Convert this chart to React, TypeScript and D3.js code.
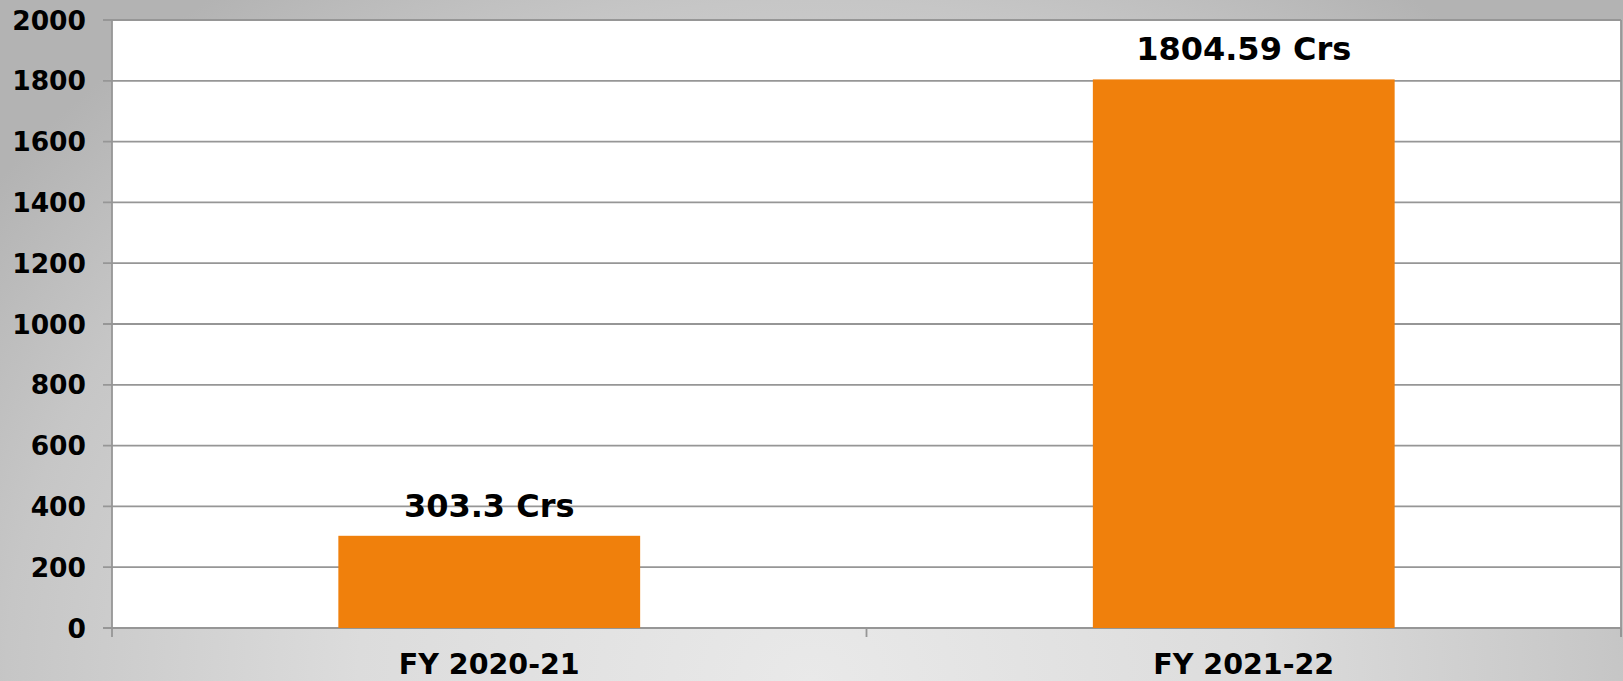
import React from "react";
import * as d3 from "d3";

const categories = ["FY 2020-21", "FY 2021-22"];
const values = [303.3, 1804.59];
const valueLabels = ["303.3 Crs", "1804.59 Crs"];
const yTicks = [0, 200, 400, 600, 800, 1000, 1200, 1400, 1600, 1800, 2000];

const W = 1623;
const H = 681;
const M = { left: 112, right: 2, top: 20, bottom: 53 };

export default function App() {
  const x = d3
    .scaleBand<string>()
    .domain(categories)
    .range([M.left, W - M.right])
    .paddingInner(0)
    .paddingOuter(0);
  const y = d3.scaleLinear().domain([0, 2000]).range([H - M.bottom, M.top]);
  const bw = x.bandwidth() * 0.4;
  const font = "'DejaVu Sans', Verdana, sans-serif";
  const axisColor = "#969696";
  const bottom = y(0);
  const boundaries = [...categories.map((c) => x(c)!), W - M.right];

  return (
    <svg
      width={W}
      height={H}
      style={{ position: "absolute", left: 0, top: 0, display: "block" }}
      fontFamily={font}
    >
      <defs>
        <radialGradient id="bg" cx="0.5" cy="1" r="1" gradientTransform="translate(0.5 1) scale(0.62 1.25) translate(-0.5 -1)">
          <stop offset="0" stopColor="#e9e9e9" />
          <stop offset="0.45" stopColor="#dcdcdc" />
          <stop offset="0.8" stopColor="#c6c6c6" />
          <stop offset="1" stopColor="#b3b3b3" />
        </radialGradient>
      </defs>
      <rect x={0} y={0} width={W} height={H} fill="url(#bg)" />
      <rect
        x={M.left}
        y={M.top}
        width={W - M.right - M.left}
        height={bottom - M.top}
        fill="#ffffff"
      />
      {yTicks.map((t) => (
        <g key={t}>
          <line
            x1={M.left - 9}
            x2={W - M.right}
            y1={y(t)}
            y2={y(t)}
            stroke={axisColor}
            strokeWidth={1.8}
          />
          <text
            x={86}
            y={y(t)}
            dy="0.36em"
            textAnchor="end"
            fontSize={26.5}
            fontWeight="bold"
            fill="#000"
          >
            {t}
          </text>
        </g>
      ))}
      {categories.map((c, i) => {
        const cx = x(c)! + x.bandwidth() / 2;
        return (
          <g key={c}>
            <rect
              x={cx - bw / 2}
              y={y(values[i])}
              width={bw}
              height={bottom - y(values[i])}
              fill="#f0800c"
            />
            <text
              x={cx}
              y={y(values[i]) - 19}
              textAnchor="middle"
              fontSize={32}
              fontWeight="bold"
              fill="#000"
            >
              {valueLabels[i]}
            </text>
            <text
              x={cx}
              y={674}
              textAnchor="middle"
              fontSize={28.5}
              fontWeight="bold"
              fill="#000"
            >
              {c}
            </text>
          </g>
        );
      })}
      <line x1={M.left} x2={M.left} y1={M.top} y2={bottom} stroke={axisColor} strokeWidth={1.8} />
      <line x1={W - M.right} x2={W - M.right} y1={M.top} y2={bottom + 9} stroke={axisColor} strokeWidth={1.8} />
      {boundaries.map((b, i) => (
        <line key={i} x1={b} x2={b} y1={bottom} y2={bottom + 9} stroke={axisColor} strokeWidth={1.8} />
      ))}
    </svg>
  );
}
